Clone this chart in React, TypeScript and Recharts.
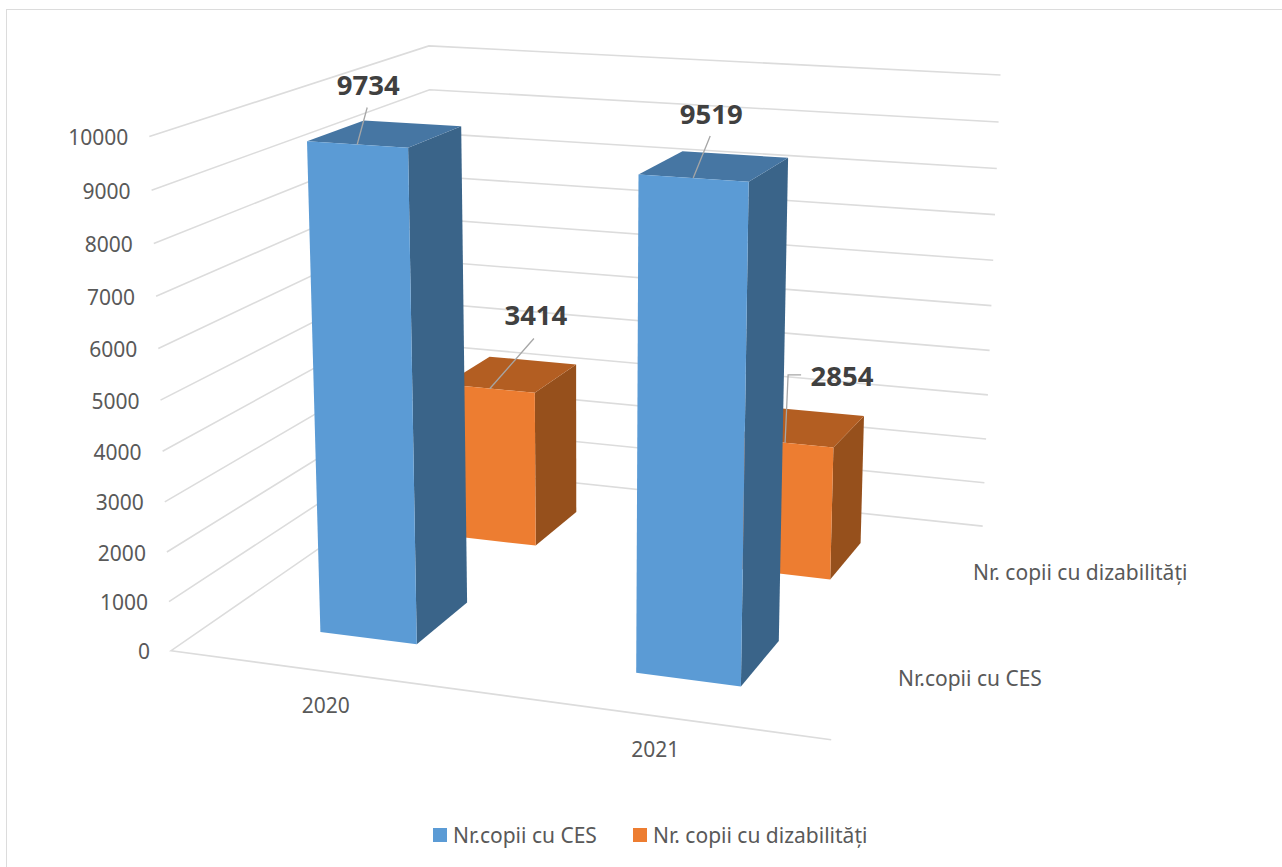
import React from 'react';
import { BarChart, Bar, XAxis, YAxis, CartesianGrid, Legend } from 'recharts';

const categories = ['2020', '2021'];
const cesValues = [9734, 9519];
const dizValues = [3414, 2854];
const seriesNames = ['Nr.copii cu CES', 'Nr. copii cu dizabilități'];
const yTicks = [0, 1000, 2000, 3000, 4000, 5000, 6000, 7000, 8000, 9000, 10000];

const data = categories.map((c, i) => ({ c, ces: cesValues[i], diz: dizValues[i] }));

const W = 1282, H = 867;
const M = { top: 100, right: 100, bottom: 80, left: 60 };
const YW = 40, XH = 20;
const PL = M.left + YW, PT = M.top;
const PW = W - PL - M.right, PH = H - M.top - M.bottom - XH;
const uOf = (x: number) => (x - PL) / PW;
const vOf = (y: number) => (PT + PH - y) / PH;

const calib: number[][] = [
  [0, 0, 0, 172, 651], [1, 0, 0, 831, 739], [1, 1, 0, 982, 528], [0, 1, 0, 436, 466],
  [0, 0, 1, 149, 137], [0, 1, 1, 428, 46], [1, 1, 1, 1000, 75],
  [0.173, 0.148, 0.9734, 308, 142], [0.33, 0.148, 0.9734, 409, 147], [0.33, 0.345, 0.9734, 462, 127],
  [0.672, 0.148, 0.9519, 639, 174], [0.829, 0.148, 0.9519, 749, 181], [0.829, 0.345, 0.9519, 788, 158],
  [0.33, 0.644, 0.3414, 536, 393], [0.33, 0.84, 0.3414, 577, 365],
  [0.829, 0.644, 0.2854, 834, 447], [0.829, 0.84, 0.2854, 865, 416],
  [0.173, 0.148, 0, 320, 633], [0.33, 0.148, 0, 417, 644], [0.33, 0.345, 0, 467, 603],
  [0.672, 0.148, 0, 636, 673], [0.829, 0.148, 0, 741, 686], [0.829, 0.345, 0, 779, 641],
  [0.33, 0.644, 0, 536, 546], [0.33, 0.84, 0, 577, 512], [0.829, 0.644, 0, 830, 579], [0.829, 0.84, 0, 861, 543],
];
function solve(): number[] {
  const n = 11;
  const A = Array.from({ length: n }, () => new Array(n + 1).fill(0));
  const add = (r: number[], b: number) => {
    for (let i = 0; i < n; i++) { for (let j = 0; j < n; j++) A[i][j] += r[i] * r[j]; A[i][n] += r[i] * b; }
  };
  for (const [u, d, v, x, y] of calib) {
    add([u, d, v, 1, 0, 0, 0, 0, -x * u, -x * d, -x * v], x);
    add([0, 0, 0, 0, u, d, v, 1, -y * u, -y * d, -y * v], y);
  }
  for (let i = 0; i < n; i++) {
    let p = i;
    for (let k = i + 1; k < n; k++) if (Math.abs(A[k][i]) > Math.abs(A[p][i])) p = k;
    [A[i], A[p]] = [A[p], A[i]];
    for (let k = 0; k < n; k++) {
      if (k === i) continue;
      const f = A[k][i] / A[i][i];
      for (let j = i; j <= n; j++) A[k][j] -= f * A[i][j];
    }
  }
  return A.map((r, i) => r[n] / r[i]);
}
const m = solve();
const P = (u: number, d: number, v: number) => {
  const w = m[8] * u + m[9] * d + m[10] * v + 1;
  return { x: (m[0] * u + m[1] * d + m[2] * v + m[3]) / w, y: (m[4] * u + m[5] * d + m[6] * v + m[7]) / w };
};
const pts = (l: { x: number; y: number }[]) => l.map((p) => `${p.x.toFixed(1)},${p.y.toFixed(1)}`).join(' ');

const barW = 0.157;
const depths = { ces: [0.148, 0.345], diz: [0.644, 0.84] };
const colors = {
  ces: { front: '#5B9BD5', top: '#4676A3', side: '#3A6489' },
  diz: { front: '#ED7D31', top: '#B35E22', side: '#96501C' },
};

const Box3D = (p: any, key: 'ces' | 'diz') => {
  const u0 = uOf(p.x), u1 = uOf(p.x + p.width), v = vOf(p.y);
  const [d0, d1] = depths[key];
  const c = colors[key];
  return (
    <g>
      <polygon points={pts([P(u1, d0, 0), P(u1, d1, 0), P(u1, d1, v), P(u1, d0, v)])} fill={c.side} />
      <polygon points={pts([P(u0, d0, v), P(u1, d0, v), P(u1, d1, v), P(u0, d1, v)])} fill={c.top} />
      <polygon points={pts([P(u0, d0, 0), P(u1, d0, 0), P(u1, d0, v), P(u0, d0, v)])} fill={c.front} />
    </g>
  );
};

const labelOffsets: Record<string, { ex: number; ey: number; tx: number; ty: number; elbow?: boolean }[]> = {
  ces: [{ ex: 10, ey: -37, tx: 11, ty: -59 }, { ex: 17, ey: -42, tx: 18, ty: -64 }],
  diz: [{ ex: 44, ey: -50, tx: 46, ty: -73 }, { ex: 16, ey: -68, tx: 57, ty: -67, elbow: true }],
};
const DataLabel = (p: any, key: 'ces' | 'diz') => {
  const u = uOf(p.x + p.width / 2), v = vOf(p.y);
  const a = P(u, depths[key][0], v);
  const o = labelOffsets[key][p.index];
  const line = o.elbow
    ? [a, { x: a.x + 3, y: a.y + o.ey }, { x: a.x + o.ex, y: a.y + o.ey }]
    : [a, { x: a.x + o.ex, y: a.y + o.ey }];
  return (
    <g>
      <polyline points={pts(line)} fill="none" stroke="#a6a6a6" strokeWidth={1.3} />
      <text x={a.x + o.tx} y={a.y + o.ty} dy="0.36em" textAnchor="middle" fontFamily="Noto Sans" fontWeight={700} fontSize={27.5} fill="#404040">{p.value}</text>
    </g>
  );
};

const gridLine = (p: any) => {
  const v = vOf(p.y1);
  const isFloor = Math.abs(v) < 1e-6;
  const l = isFloor
    ? [P(1, 0, 0), P(0, 0, 0), P(0, 1, 0), P(1, 1, 0)]
    : [P(0, 0, v), P(0, 1, v), P(1, 1, v)];
  return <polyline key={`g${v}`} points={pts(l)} fill="none" stroke="#dcdcdc" strokeWidth={1.6} />;
};

const YTick = (p: any) => {
  const a = P(0, 0, vOf(p.y));
  return <text x={a.x - 21} y={a.y + 1} dy="0.36em" textAnchor="end" fontFamily="Noto Sans" fontSize={21} fill="#595959">{p.payload.value}</text>;
};
const XTick = (p: any) => {
  const a = P(uOf(p.x), 0, 0);
  return <text x={a.x} y={a.y + 33.5} dy="0.36em" textAnchor="middle" fontFamily="Noto Sans" fontSize={21} fill="#595959">{p.payload.value}</text>;
};

const LegendBox = () => (
  <div style={{ position: 'relative', width: W, height: 0 }}>
    {seriesNames.map((s, i) => (
      <React.Fragment key={s}>
        <div style={{ position: 'absolute', left: [433, 633][i], top: 828, width: 14, height: 14, background: [colors.ces.front, colors.diz.front][i] }} />
        <div style={{ position: 'absolute', left: [453, 653][i], top: 821, fontFamily: 'Noto Sans', fontSize: 21, lineHeight: '28px', color: '#595959', whiteSpace: 'nowrap' }}>{s}</div>
      </React.Fragment>
    ))}
  </div>
);

export default function App() {
  return (
    <div style={{ position: 'absolute', left: 0, top: 0, width: W, height: H, overflow: 'hidden', background: '#fff' }}>
      <div style={{ position: 'absolute', left: 6, top: 9, width: W, height: H, borderLeft: '1.5px solid #dcdcdc', borderTop: '1.5px solid #dcdcdc' }} />
      <BarChart width={W} height={H} data={data} margin={M} barSize={PW * barW} barGap={-PW * barW} style={{ position: 'absolute', left: 0, top: 0 }}>
        <CartesianGrid vertical={false} horizontal={gridLine} />
        <XAxis dataKey="c" height={XH} axisLine={false} tickLine={false} tick={XTick} interval={0} />
        <YAxis width={YW} domain={[0, 10000]} ticks={yTicks} axisLine={false} tickLine={false} tick={YTick} interval={0} />
        <Legend content={LegendBox} wrapperStyle={{ position: 'absolute', left: 0, top: 0, bottom: 'auto', width: W, height: 0 }} />
        <Bar dataKey="diz" name={seriesNames[1]} isAnimationActive={false} shape={(p: any) => Box3D(p, 'diz')} label={(p: any) => DataLabel(p, 'diz')} />
        <Bar dataKey="ces" name={seriesNames[0]} isAnimationActive={false} shape={(p: any) => Box3D(p, 'ces')} label={(p: any) => DataLabel(p, 'ces')} />
        <text x={898} y={678} dy="0.36em" fontFamily="Noto Sans" fontSize={21} fill="#595959">{seriesNames[0]}</text>
        <text x={973} y={572} dy="0.36em" fontFamily="Noto Sans" fontSize={21} fill="#595959">{seriesNames[1]}</text>
      </BarChart>
    </div>
  );
}
